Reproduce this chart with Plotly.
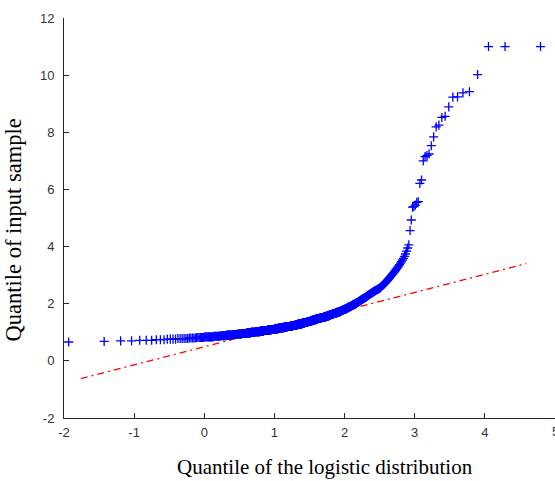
import numpy as np
import plotly.graph_objects as go

# Sorted sample: the dense core is stored as value levels with their tie counts,
# the sparse upper tail as individual observations.
core_levels = [0.66, 0.68, 0.70, 0.72, 0.74, 0.76, 0.78, 0.80, 0.82, 0.84,
               0.86, 0.88, 0.90, 0.92, 0.94, 0.96, 0.98, 1.00, 1.02, 1.04,
               1.06, 1.08, 1.10, 1.12, 1.14, 1.16, 1.18, 1.20, 1.22, 1.24,
               1.26, 1.28, 1.30, 1.32, 1.34, 1.36, 1.38, 1.40, 1.42, 1.44,
               1.46, 1.48, 1.50, 1.52, 1.54, 1.56, 1.58, 1.60, 1.62, 1.64,
               1.66, 1.68, 1.70, 1.72, 1.74, 1.76, 1.78, 1.80, 1.82, 1.84,
               1.86, 1.88, 1.90, 1.92, 1.94, 1.96, 1.98, 2.00, 2.02, 2.04,
               2.06, 2.08, 2.10, 2.12, 2.14, 2.16, 2.18, 2.20, 2.22, 2.24,
               2.26, 2.28, 2.30, 2.32, 2.34, 2.36, 2.38, 2.40, 2.42, 2.44,
               2.46, 2.48, 2.50, 2.52, 2.54, 2.56]
core_counts = [1, 1, 2, 3, 3, 4, 6, 5, 7, 10,
               9, 10, 10, 12, 11, 12, 13, 14, 17, 15,
               15, 16, 15, 16, 15, 16, 17, 17, 15, 13,
               14, 14, 13, 14, 11, 10, 11, 11, 11, 10,
               11, 11, 11, 11, 11, 10, 7, 8, 7, 7,
               8, 7, 8, 7, 5, 5, 5, 5, 5, 5,
               4, 5, 3, 4, 3, 4, 4, 3, 3, 3,
               3, 2, 3, 2, 3, 3, 2, 3, 2, 2,
               2, 2, 2, 2, 2, 2, 2, 2, 2, 2,
               2, 2, 2, 2, 2, 1]
tail_values = [2.58, 2.60, 2.62, 2.64, 2.66, 2.68, 2.70, 2.72, 2.74, 2.77,
               2.79, 2.81, 2.84, 2.87, 2.90, 2.93, 2.96, 2.99, 3.02, 3.05,
               3.09, 3.12, 3.16, 3.20, 3.24, 3.28, 3.32, 3.37, 3.42, 3.47,
               3.53, 3.59, 3.66, 3.74, 3.84, 3.95, 4.06, 4.56, 4.93, 5.38,
               5.40, 5.45, 5.55, 5.57, 6.21, 6.33, 7.00, 7.15, 7.19, 7.24,
               7.53, 7.84, 8.19, 8.25, 8.52, 8.56, 8.89, 9.23, 9.24, 9.38,
               9.42, 10.02, 11.0, 11.0, 11.0]

# Fitted logistic distribution (location, scale)
logistic_loc = 1.43
logistic_scale = 0.46

# x extent of the dash-dot reference line
ref_span = [-1.76, 4.59]

x_ticks = [-2, -1, 0, 1, 2, 3, 4, 5]
x_tick_text = ["-2", "-1", "0", "1", "2", "3", "4", "5"]
y_ticks = [-2, 0, 2, 4, 6, 8, 10, 12]
y_tick_text = ["-2", "0", "2", "4", "6", "8", "10", "12"]

sample = np.concatenate([np.repeat(core_levels, core_counts), tail_values])
n = sample.size
p = (np.arange(1, n + 1) - 0.5) / n
theo = logistic_loc + logistic_scale * np.log(p / (1 - p))

# Reference line through the first and third quartiles
q1y, q3y = np.percentile(sample, [25, 75])
q1x = logistic_loc + logistic_scale * np.log(1 / 3)
q3x = logistic_loc + logistic_scale * np.log(3)
slope = (q3y - q1y) / (q3x - q1x)
ref_x = np.array(ref_span)
ref_y = q1y + slope * (ref_x - q1x)

fig = go.Figure()
fig.add_trace(go.Scatter(
    x=ref_x, y=ref_y, mode="lines",
    line=dict(color="#ff0000", width=1.2, dash="7px,4px,2px,4px"),
    hoverinfo="skip", showlegend=False,
))
fig.add_trace(go.Scatter(
    x=theo, y=sample, mode="markers",
    marker=dict(symbol="cross-thin", size=6.5,
                line=dict(color="#0000ff", width=1.3)),
    showlegend=False,
))

tick_font = dict(family="Liberation Sans, Arial", size=13, color="#333333")
axis_common = dict(
    showline=True, linecolor="#262626", linewidth=1,
    ticks="inside", ticklen=5, tickcolor="#262626", tickwidth=1,
    showgrid=False, zeroline=False, mirror=False,
    tickfont=tick_font,
)
# The last x label sits on the figure's right edge; it is drawn as an
# annotation so that it does not push the plot margin.
fig.update_xaxes(range=[-2, 5], tickvals=x_ticks,
                 ticktext=x_tick_text[:-1] + [""],
                 ticklabelstandoff=2, **axis_common)
fig.update_yaxes(range=[-2, 12], tickvals=y_ticks, ticktext=y_tick_text,
                 ticklabelstandoff=6, **axis_common)

fig.update_layout(
    width=555, height=481,
    margin=dict(l=64, r=0, t=18, b=63),
    plot_bgcolor="white", paper_bgcolor="white",
    annotations=[
        dict(text=x_tick_text[-1], xref="x", yref="paper",
             x=x_ticks[-1], y=-0.035, xanchor="center", yanchor="middle",
             showarrow=False, font=tick_font),
        dict(text="Quantile of the logistic distribution",
             xref="paper", yref="paper", x=0.5316, y=-0.1225,
             xanchor="center", yanchor="middle", showarrow=False,
             font=dict(family="Liberation Serif, Times New Roman", size=21,
                       color="black")),
        dict(text="Quantile of input sample",
             xref="paper", yref="paper", x=-0.103, y=0.47,
             xanchor="center", yanchor="middle", showarrow=False,
             textangle=-90,
             font=dict(family="Liberation Serif, Times New Roman", size=22.5,
                       color="black")),
    ],
)

fig.write_html("out.html")
